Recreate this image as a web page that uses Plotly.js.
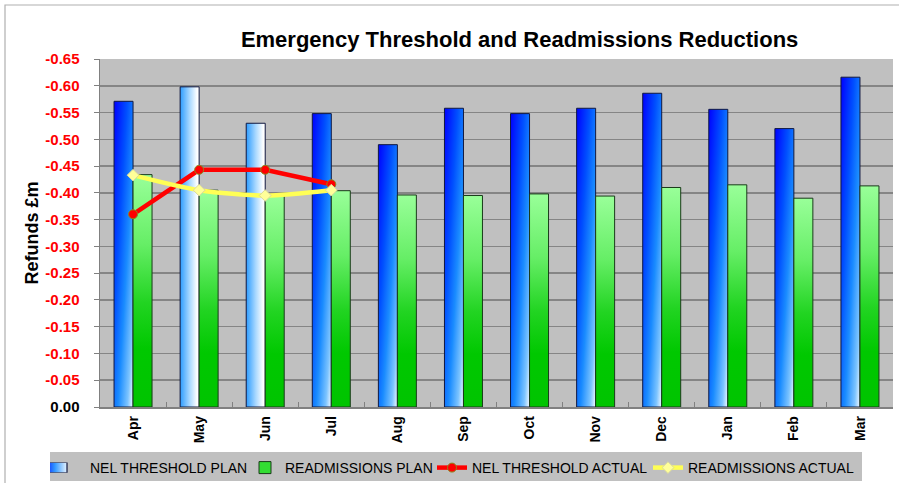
<!DOCTYPE html>
<html>
<head>
<meta charset="utf-8">
<script src="https://cdn.plot.ly/plotly-3.0.1.min.js"></script>
<style>
html,body{margin:0;padding:0;background:#fff;}
#chart{width:899px;height:483px;}
</style>
</head>
<body>
<div id="chart"></div>
<script>
// ---- data ----
var months = ['Apr','May','Jun','Jul','Aug','Sep','Oct','Nov','Dec','Jan','Feb','Mar'];
var nelPlan = [-0.571, -0.598, -0.530, -0.548, -0.490, -0.558, -0.548, -0.558, -0.586, -0.556, -0.520, -0.616];
var readmPlan = [-0.434, -0.405, -0.396, -0.404, -0.396, -0.395, -0.398, -0.394, -0.410, -0.415, -0.390, -0.413];
var nelActualMonths = ['Apr','May','Jun','Jul'];
var nelActual = [-0.360, -0.443, -0.443, -0.416];
var readmActual = [-0.433, -0.405, -0.395, -0.405];
var yTickVals = [0, -0.05, -0.10, -0.15, -0.20, -0.25, -0.30, -0.35, -0.40, -0.45, -0.50, -0.55, -0.60, -0.65];
var yTickText = ["<span style='color:#000000'>0.00</span>", '-0.05', '-0.10', '-0.15', '-0.20', '-0.25', '-0.30', '-0.35', '-0.40', '-0.45', '-0.50', '-0.55', '-0.60', '-0.65'];
var seriesNames = ['NEL THRESHOLD PLAN', 'READMISSIONS PLAN', 'NEL THRESHOLD ACTUAL', 'READMISSIONS ACTUAL'];
var lightBlueMonths = ['May','Jun'];

var FONT = 'Liberation Sans, Arial, sans-serif';
var W = 899, H = 483;

var traces = [
  {type:'bar', name:seriesNames[0], x:months, y:nelPlan, legend:'legend',
   marker:{color:'#1a6cff', line:{color:'#101840', width:1}}},
  {type:'bar', name:seriesNames[1], x:months, y:readmPlan, legend:'legend2',
   marker:{color:'#33dd33', line:{color:'#1a3a1a', width:1}}},
  {type:'scatter', mode:'lines+markers', name:seriesNames[2], x:nelActualMonths, y:nelActual, legend:'legend3',
   line:{color:'#ff0000', width:4.5},
   marker:{symbol:'circle', size:9, color:'#ff0000', line:{color:'#8a8a20', width:1}}},
  {type:'scatter', mode:'lines+markers', name:seriesNames[3], x:nelActualMonths, y:readmActual, legend:'legend4',
   line:{color:'#ffff55', width:4.5, shape:'spline', smoothing:0.8},
   marker:{symbol:'diamond', size:9, color:'#ffff99', line:{color:'#d8d8a0', width:1}}}
];

function leg(px){
  return {orientation:'h', xref:'container', yref:'container', x:px/W, xanchor:'left',
          y:1-452/H, yanchor:'top', bgcolor:'rgba(0,0,0,0)',
          font:{family:FONT, size:14, color:'#000'}, itemwidth:30};
}

var layout = {
  width:W, height:H,
  paper_bgcolor:'#ffffff', plot_bgcolor:'#c0c0c0',
  margin:{l:100, r:6, t:59, b:76},
  barmode:'group', bargap:0.425, bargroupgap:0,
  showlegend:true,
  font:{family:FONT, color:'#000'},
  title:{text:'<b>Emergency Threshold and Readmissions Reductions</b>',
         font:{family:FONT, size:22, color:'#000'},
         xref:'container', yref:'container', x:0.578, xanchor:'center', y:0.919, yanchor:'middle'},
  xaxis:{type:'category', categoryarray:months, categoryorder:'array',
         range:[-0.5, months.length - 0.5], autorange:false,
         tickangle:-90, tickfont:{family:FONT, size:14, color:'#000', weight:'bold'},
         showline:true, linecolor:'#808080', linewidth:1.5,
         ticks:'inside', tickson:'boundaries', ticklen:5, tickcolor:'#808080',
         showgrid:false, zeroline:false, ticklabelstandoff:2, fixedrange:true, automargin:false},
  yaxis:{range:[0, -0.65], autorange:false, tickvals:yTickVals, ticktext:yTickText,
         tickfont:{family:FONT, size:15, color:'#ff0000', weight:'bold'},
         showline:true, linecolor:'#808080', linewidth:1.5,
         ticks:'outside', ticklen:5, tickcolor:'#808080',
         showgrid:true, gridcolor:'#858585', gridwidth:1.5, zeroline:false,
         ticklabelstandoff:11, automargin:false,
         title:{text:'<b>Refunds £m</b>', font:{family:FONT, size:18, color:'#000'}, standoff:2}},
  legend:leg(50), legend2:leg(245), legend3:leg(432), legend4:leg(648),
  shapes:[
    {type:'rect', xref:'paper', yref:'paper', x0:-95/793, x1:1.05, y0:-0.25, y1:402/348,
     line:{color:'#b0b0b0', width:1.2}, fillcolor:'rgba(0,0,0,0)', layer:'below'},
    {type:'rect', xref:'paper', yref:'paper', x0:(50-100)/793, x1:(862-100)/793,
     y0:(407-481)/348, y1:(407-452)/348,
     line:{width:0}, fillcolor:'#c0c0c0', layer:'below'}
  ]
};

var gd = document.getElementById('chart');
Plotly.newPlot(gd, traces, layout, {displayModeBar:false, staticPlot:true}).then(function(){
  var svgNS = 'http://www.w3.org/2000/svg';
  var svg = gd.querySelector('svg.main-svg');
  var defs = document.createElementNS(svgNS, 'defs');
  svg.insertBefore(defs, svg.firstChild);
  function grad(id, x1, y1, x2, y2, stops){
    var g = document.createElementNS(svgNS, 'linearGradient');
    g.setAttribute('id', id);
    g.setAttribute('x1', x1); g.setAttribute('y1', y1);
    g.setAttribute('x2', x2); g.setAttribute('y2', y2);
    stops.forEach(function(s){
      var st = document.createElementNS(svgNS, 'stop');
      st.setAttribute('offset', s[0]);
      st.setAttribute('stop-color', s[1]);
      g.appendChild(st);
    });
    defs.appendChild(g);
  }
  grad('gBlue', 0, 0, 1, 1, [[0,'#0000ff'],[0.35,'#0050ff'],[0.6,'#1a8cff'],[0.85,'#7cc4ff'],[1,'#f4faff']]);
  grad('gBlueLight', 0, 0, 1, 0, [[0,'#2c9cff'],[0.5,'#a8d8ff'],[0.9,'#ffffff'],[1,'#ffffff']]);
  grad('gGreen', 0, 0, 0, 1, [[0,'#99ff99'],[0.3,'#66ee66'],[0.55,'#22d422'],[0.75,'#00c800'],[1,'#00c400']]);
  grad('gBlueLeg', 0, 0, 1, 0, [[0,'#0000ff'],[0.5,'#3399ff'],[1,'#e8f4ff']]);
  grad('gGreenLeg', 0, 0, 0, 1, [[0,'#99ff99'],[1,'#22cc22']]);
  var barTraces = gd.querySelectorAll('.barlayer .trace');
  if (barTraces[0]) {
    barTraces[0].querySelectorAll('.point path').forEach(function(p, i){
      p.style.fill = (lightBlueMonths.indexOf(months[i]) >= 0) ? 'url(#gBlueLight)' : 'url(#gBlue)';
    });
  }
  if (barTraces[1]) {
    barTraces[1].querySelectorAll('.point path').forEach(function(p){ p.style.fill = 'url(#gGreen)'; });
  }
  var legs = gd.querySelectorAll('.legend');
  legs.forEach(function(lg){
    var t = lg.querySelector('.legendtext');
    if (!t) return;
    var name = t.textContent;
    var idx = seriesNames.indexOf(name);
    if (idx === 0 || idx === 1) {
      lg.querySelectorAll('.legendpoints path').forEach(function(p){
        p.style.fill = idx === 0 ? 'url(#gBlueLeg)' : 'url(#gGreenLeg)';
        p.setAttribute('transform', 'translate(5,0) scale(2,0.8)');
        p.style.strokeWidth = '0.6px';
      });
    }
  });
});
</script>
</body>
</html>
